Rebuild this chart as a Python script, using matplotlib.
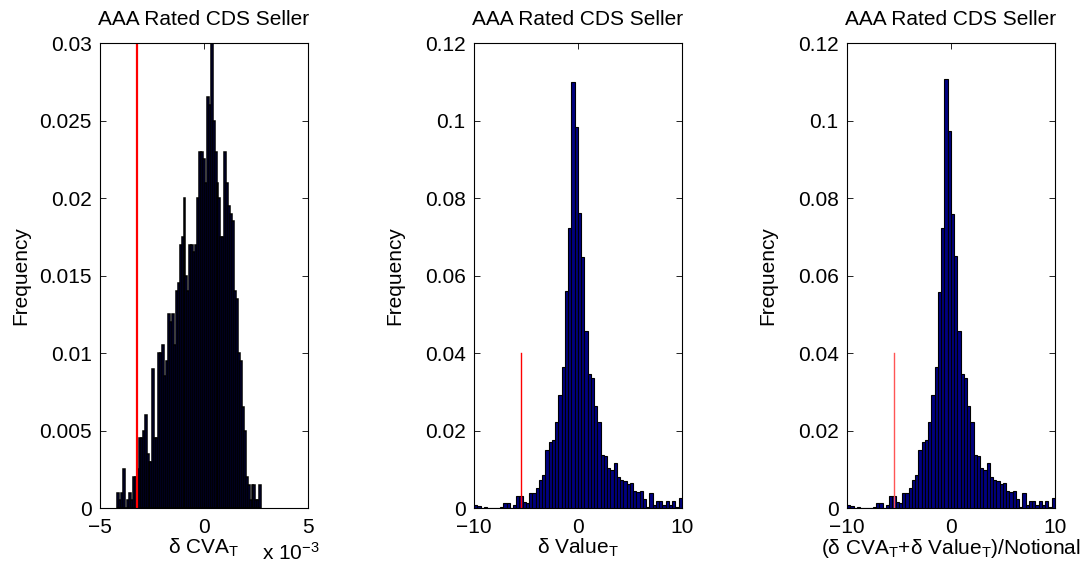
import numpy as np
import matplotlib
matplotlib.use("Agg")
import matplotlib.pyplot as plt

plt.rcParams['font.family'] = ['Liberation Sans', 'DejaVu Sans']
plt.rcParams['mathtext.fontset'] = 'custom'
plt.rcParams['mathtext.rm'] = 'Liberation Sans'
plt.rcParams['mathtext.it'] = 'Liberation Sans:italic'
plt.rcParams['font.size'] = 15

# --- data ---
# panel 1: dCVA_T (units of 1e-3), 74 bins between -4.16 and 2.76
cva_lo, cva_hi = -4.16, 2.76
cva_freq = [0.001, 0.0005, 0.001, 0.0025, 0.0, 0.0005, 0.001, 0.0005, 0.002, 0.002,
            0.0025, 0.0045, 0.0045, 0.005, 0.006, 0.0035, 0.003, 0.003, 0.009, 0.0045,
            0.0045, 0.01, 0.01, 0.0105, 0.0085, 0.0095, 0.0125, 0.012, 0.0125, 0.0105,
            0.014, 0.0145, 0.017, 0.0175, 0.02, 0.015, 0.014, 0.017, 0.017, 0.0165,
            0.017, 0.02, 0.023, 0.023, 0.0225, 0.021, 0.0265, 0.026, 0.03, 0.025,
            0.023, 0.021, 0.02, 0.0175, 0.0175, 0.023, 0.021, 0.0195, 0.019, 0.0185,
            0.014, 0.0135, 0.01, 0.0095, 0.0065, 0.005, 0.002, 0.0015, 0.0005, 0.0015,
            0.0015, 0.0005, 0.0005, 0.0015]
cva_var = -3.24

# panel 2: dValue_T, 64 bins between -10 and 10
val_lo, val_hi = -10, 10
val_freq = [0.0007, 0.0005, 0.0, 0.0003, 0.0, 0.0, 0.0, 0.0, 0.0003, 0.0014,
            0.0014, 0.0, 0.0009, 0.003, 0.003, 0.0016, 0.0014, 0.004, 0.0038, 0.0052,
            0.0073, 0.0085, 0.015, 0.017, 0.0175, 0.0221, 0.0291, 0.0365, 0.0559, 0.0722,
            0.1099, 0.0983, 0.0762, 0.0649, 0.0457, 0.0346, 0.0336, 0.0263, 0.0223, 0.0137,
            0.0134, 0.0104, 0.0098, 0.0115, 0.008, 0.0072, 0.0071, 0.0062, 0.0064, 0.0045,
            0.0041, 0.0045, 0.0022, 0.0002, 0.0038, 0.0007, 0.0019, 0.0017, 0.0007, 0.0019,
            0.0007, 0.0019, 0.0002, 0.0026]
val_var = -5.5

# panel 3: (dCVA_T + dValue_T)/Notional, same bins
tot_freq = [0.0007, 0.0005, 0.0, 0.0003, 0.0, 0.0, 0.0, 0.0, 0.0003, 0.0014,
            0.0014, 0.0, 0.0009, 0.003, 0.003, 0.0016, 0.0014, 0.004, 0.0038, 0.0052,
            0.0073, 0.0085, 0.015, 0.017, 0.0175, 0.0221, 0.0291, 0.0365, 0.0558, 0.0722,
            0.1108, 0.0972, 0.0758, 0.0651, 0.0457, 0.0346, 0.0336, 0.0263, 0.0223, 0.0137,
            0.0134, 0.0104, 0.0098, 0.0115, 0.008, 0.0072, 0.0071, 0.0062, 0.0064, 0.0045,
            0.0041, 0.0045, 0.0022, 0.0002, 0.0038, 0.0007, 0.0019, 0.0017, 0.0007, 0.0019,
            0.0007, 0.0019, 0.0002, 0.0026]
tot_var = -5.5

title = 'AAA Rated CDS Seller'


def draw_hist(ax, freq, lo, hi, lw):
    edges = np.linspace(lo, hi, len(freq) + 1)
    ax.bar(edges[:-1], freq, width=np.diff(edges), align='edge',
           color='#000080', edgecolor='black', linewidth=lw)


def matlab_axes(ax, xlim, ylim, xticks, yticks):
    ax.set_xlim(*xlim)
    ax.set_ylim(*ylim)
    ax.set_xticks(xticks)
    ax.set_yticks(yticks)
    ax.set_xticklabels([('\u2212' + '%g' % -t) if t < 0 else '%g' % t for t in xticks])
    ax.set_yticklabels(['%g' % t for t in yticks])
    ax.tick_params(direction='in', top=True, right=True, length=4, width=0.6)
    ax.tick_params(axis='x', pad=7)
    ax.tick_params(axis='y', pad=6)
    for s in ax.spines.values():
        s.set_linewidth(0.8)
    ax.set_title(title, fontsize=15, pad=13)
    ax.set_ylabel('Frequency')
    ax.yaxis.set_label_coords(-0.335, 0.5)


fig = plt.figure(figsize=(10.88, 5.73), dpi=100)
w, h, b = 0.191, 0.8115, 0.1134

ax1 = fig.add_axes([0.0919, b, w, h])
draw_hist(ax1, cva_freq, cva_lo, cva_hi, 1.1)
ax1.plot([cva_var, cva_var], [0, 0.03], color='red', linewidth=1.6)
matlab_axes(ax1, (-5, 5), (0, 0.03), [-5, 0, 5], [0, 0.005, 0.01, 0.015, 0.02, 0.025, 0.03])
ax1.set_xlabel(r'δ CVA$_{\mathrm{T}}$', labelpad=0)
ax1.text(0.78, -0.072, r'x 10$^{-3}$', transform=ax1.transAxes, ha='left', va='top')

ax2 = fig.add_axes([0.4357, b, w, h])
draw_hist(ax2, val_freq, val_lo, val_hi, 0.8)
ax2.plot([val_var, val_var], [0, 0.04], color='red', linewidth=1.0)
matlab_axes(ax2, (-10, 10), (0, 0.12), [-10, 0, 10], [0, 0.02, 0.04, 0.06, 0.08, 0.1, 0.12])
ax2.set_xlabel(r'δ Value$_{\mathrm{T}}$', labelpad=0)

ax3 = fig.add_axes([0.7785, b, w, h])
draw_hist(ax3, tot_freq, val_lo, val_hi, 0.8)
ax3.plot([tot_var, tot_var], [0, 0.04], color='#ff5555', linewidth=1.0)
matlab_axes(ax3, (-10, 10), (0, 0.12), [-10, 0, 10], [0, 0.02, 0.04, 0.06, 0.08, 0.1, 0.12])
ax3.set_xlabel(r'(δ CVA$_{\mathrm{T}}$+δ Value$_{\mathrm{T}}$)/Notional', labelpad=0)

fig.savefig('out.png', dpi=100)
